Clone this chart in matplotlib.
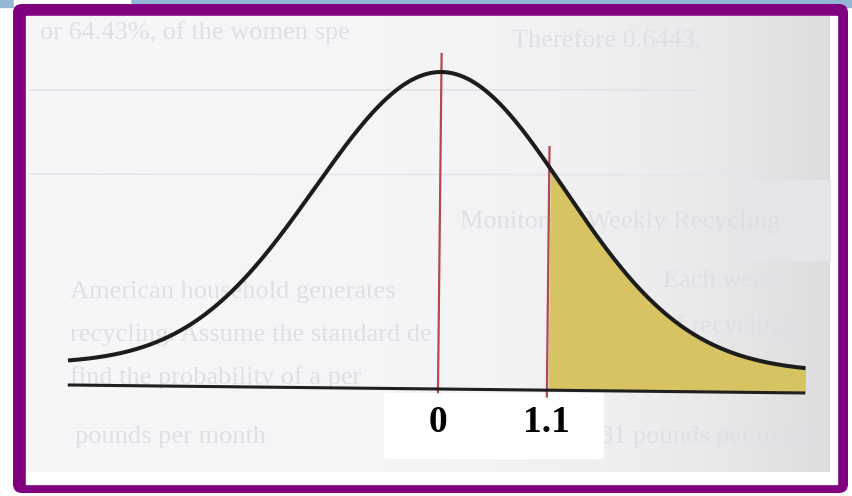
import numpy as np
import matplotlib
matplotlib.use("Agg")
import matplotlib.pyplot as plt
from matplotlib.patches import FancyBboxPatch, Rectangle
from matplotlib.transforms import Affine2D

# ---- chart values -------------------------------------------------------
mean_z = 0.0
cutoff_z = 1.1
tick_values = [0.0, 1.1]
tick_labels = ["0", "1.1"]
curve_start, curve_end = -3.74, 3.71      # drawn extent of the bell curve (z units)
curve_sigma = 1.26                         # spread of the drawn bell
tail_level = 0.066                         # height the tails settle at
mean_line_top = 1.057
cutoff_line_top = 0.767

# ---- figure -------------------------------------------------------------
W, H = 853, 496
fig = plt.figure(figsize=(W / 100, H / 100), dpi=100)
fig.patch.set_facecolor("white")

# decoration layer in pixel coordinates
bg = fig.add_axes([0, 0, 1, 1])
bg.axis("off")

bg.add_patch(Rectangle((0, 0), W, 7, color="#94b6d6", zorder=0))
bg.add_patch(Rectangle((14, 0), 116, 7, color="white", zorder=0))
bg.add_patch(FancyBboxPatch((13, 4), 835, 489, boxstyle="round,pad=0,rounding_size=9",
                            facecolor="#800080", edgecolor="none", zorder=1))
bg.add_patch(Rectangle((26, 16), 811, 468, color="white", zorder=2))

# scanned page with darker shading towards the right edge
grad = np.linspace(0, 1, 400)
shade = 0.965 - 0.10 * grad ** 4
page = np.stack([shade, shade, np.minimum(shade + 0.01, 1)], axis=-1)[None, :, :]
page = np.repeat(page, 2, axis=0)
bg.imshow(page, extent=(26, 830, 472, 16), aspect="auto", zorder=3,
          interpolation="bilinear")
bg.set_xlim(0, W)
bg.set_ylim(H, 0)

# faint print showing through from the page
ghost = dict(color="#e0e0e4", family="Liberation Serif", fontsize=19, zorder=4,
             va="center", ha="left", clip_on=True)
bg.text(40, 33, "or 64.43%, of the women spe", **ghost)
bg.text(512, 41, "Therefore 0.6443,", **ghost)
bg.plot([30, 697], [90, 90], color="#e2e2e6", lw=1.2, zorder=4)
bg.plot([30, 763], [174, 175], color="#e6e6ea", lw=1.2, zorder=4)
bg.add_patch(Rectangle((740, 180), 90, 80, color="#e6e6ea", zorder=3.5))
bg.text(460, 222, "Monitoring Weekly Recycling", **ghost)
bg.text(70, 292, "American household generates", **ghost)
bg.text(70, 335, "recycling. Assume the standard de", **ghost)
bg.text(70, 378, "find the probability of a per", **ghost)
bg.text(75, 437, "pounds per month", **ghost)
bg.text(663, 280, "Each week,", **ghost)
bg.text(663, 327, "of recycling", **ghost)
bg.text(600, 437, "31 pounds per month", **ghost)

# label panel
bg.add_patch(Rectangle((384, 393), 219, 65, color="white", zorder=6))

# ---- plotting axes: z units horizontally, relative height vertically ----
px_per_z = 99.0
x0_px, base_px, peak_px = 438.0, 389.0, 72.0
h_px = base_px - peak_px
left_px, right_px, top_px, bot_px = 26, 837, 16, 484
ax = fig.add_axes([left_px / W, 1 - bot_px / H, (right_px - left_px) / W,
                   (bot_px - top_px) / H])
ax.set_xlim((left_px - x0_px) / px_per_z, (right_px - x0_px) / px_per_z)
ax.set_ylim((base_px - bot_px) / h_px, (base_px - top_px) / h_px)
ax.axis("off")
ax.patch.set_alpha(0)
ax.set_zorder(5)

# slight tilt of the scanned drawing
tilt = Affine2D().rotate_deg_around(x0_px, H - base_px, -0.62)
tr = ax.transData + tilt

z = np.linspace(curve_start, curve_end, 600)
y = tail_level + (1 - tail_level) * np.exp(-(z - mean_z) ** 2 / (2 * curve_sigma ** 2))

tail = z >= cutoff_z
ax.fill_between(z[tail], 0, y[tail], color="#d6c462", lw=0, transform=tr, zorder=1)
ax.plot([curve_start, curve_end], [0, 0], color="#1f1f1f", lw=2.2,
        solid_capstyle="butt", transform=tr, zorder=3)
ax.plot([mean_z, mean_z], [-0.01, mean_line_top], color="#b04a4e", lw=1.6,
        transform=tr, zorder=2)
ax.plot([cutoff_z, cutoff_z], [-0.02, cutoff_line_top], color="#b04a4e", lw=1.6,
        transform=tr, zorder=2)
ax.plot(z, y, color="#1c1c1c", lw=2.9, solid_capstyle="butt", transform=tr, zorder=4)

label_y = (base_px - 423) / h_px
for v, s in zip(tick_values, tick_labels):
    ax.text(v, label_y, s, ha="center", va="center", fontsize=27,
            fontweight="bold", family="Liberation Serif", color="black", zorder=7)

fig.savefig("out.png", dpi=100)
